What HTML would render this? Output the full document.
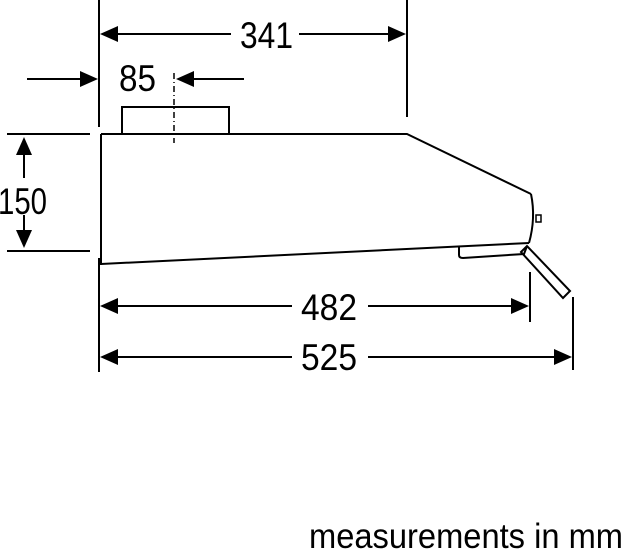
<!DOCTYPE html>
<html><head><style>html,body{margin:0;padding:0;background:#fff;}svg{display:block}</style></head>
<body>
<svg width="624" height="550" viewBox="0 0 624 550" xmlns="http://www.w3.org/2000/svg" font-family="Liberation Sans, Arial, sans-serif">
<g stroke="#000" stroke-width="2" fill="none">
<line x1="99" y1="0" x2="99" y2="127"/>
<line x1="99" y1="258" x2="99" y2="372"/>
<line x1="407" y1="0" x2="407" y2="117"/>
<polyline points="101,134 407,134 531,194"/>
<line x1="101" y1="134" x2="101" y2="265"/>
<path d="M531,194 Q536,218 529,243"/>
<line x1="101" y1="264" x2="529" y2="243"/>
<rect x="536" y="215" width="5" height="7" stroke-width="1.5"/>
<path d="M459,247 L459,255 Q459,258 463,258 L524,254 L527,246" />
<polygon points="521,252 527,246 570,291 563,298"/>
<polyline points="122,134 122,107 229,107 229,134"/>
<line x1="174" y1="73" x2="174" y2="143" stroke-width="1.5" stroke-dasharray="6,3,1,3"/>
<line x1="7" y1="134" x2="90" y2="134"/>
<line x1="7" y1="251" x2="90" y2="251"/>
<line x1="24" y1="150" x2="24" y2="178"/>
<line x1="24" y1="215" x2="24" y2="235"/>
<line x1="115" y1="34" x2="231" y2="34"/>
<line x1="299" y1="34" x2="393" y2="34"/>
<line x1="27" y1="79" x2="84" y2="79"/>
<line x1="190" y1="79" x2="244" y2="79"/>
<line x1="115" y1="306" x2="292" y2="306"/>
<line x1="368" y1="306" x2="514" y2="306"/>
<line x1="530" y1="272" x2="530" y2="322"/>
<line x1="115" y1="357" x2="292" y2="357"/>
<line x1="368" y1="357" x2="559" y2="357"/>
<line x1="573" y1="297" x2="573" y2="370"/>
</g>
<g fill="#000">
<polygon points="100,34 118,26 118,42"/>
<polygon points="406,34 388,26 388,42"/>
<polygon points="98,79 80,71 80,87"/>
<polygon points="176,79 194,71 194,87"/>
<polygon points="24,137 16,155 32,155"/>
<polygon points="24,248 16,230 32,230"/>
<polygon points="100,306 118,298 118,314"/>
<polygon points="529,306 511,298 511,314"/>
<polygon points="100,357 118,349 118,365"/>
<polygon points="572,357 554,349 554,365"/>
</g>
<g font-size="37" fill="#000">
<text x="240" y="48" textLength="53" lengthAdjust="spacingAndGlyphs">341</text>
<text x="119" y="91" textLength="37" lengthAdjust="spacingAndGlyphs">85</text>
<text x="-2" y="214" textLength="49" lengthAdjust="spacingAndGlyphs">150</text>
<text x="301" y="320" textLength="56" lengthAdjust="spacingAndGlyphs">482</text>
<text x="301" y="370" textLength="56" lengthAdjust="spacingAndGlyphs">525</text>
<text x="309" y="548" font-size="35" textLength="314" lengthAdjust="spacingAndGlyphs">measurements in mm</text>
</g>
</svg>
</body></html>
